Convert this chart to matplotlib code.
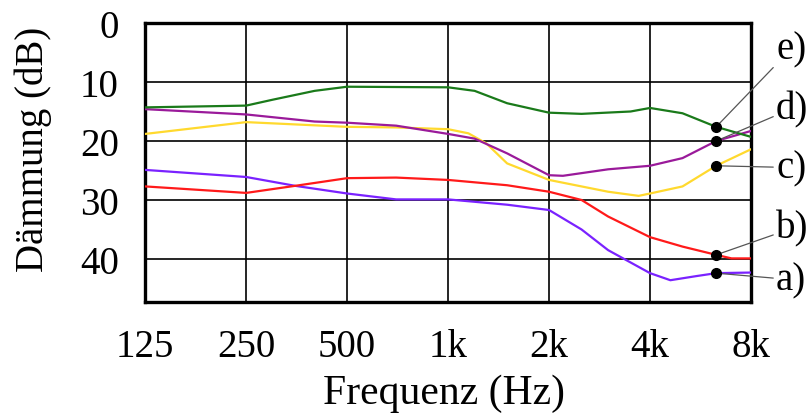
import matplotlib.pyplot as plt
import numpy as np

plt.rcParams["font.family"] = ["Liberation Serif", "DejaVu Serif"]

# curve data (frequency in Hz, attenuation in dB)
freq_a = [125, 250, 350, 500, 700, 1000, 1500, 2000, 2500, 3000, 4000, 4600, 5500, 6300, 8000]
damp_a = [24.9, 26.1, 27.6, 28.9, 29.9, 29.9, 30.8, 31.7, 35.0, 38.5, 42.4, 43.6, 42.9, 42.4, 42.3]

freq_b = [125, 250, 350, 500, 700, 1000, 1500, 2000, 2500, 3000, 4000, 5000, 6300, 7000, 8000]
damp_b = [27.7, 28.8, 27.6, 26.3, 26.2, 26.6, 27.5, 28.6, 30.0, 32.8, 36.3, 37.9, 39.3, 39.9, 39.9]

freq_c = [125, 250, 500, 700, 1000, 1150, 1300, 1500, 2000, 3000, 3700, 4000, 5000, 6300, 8000]
damp_c = [18.8, 16.8, 17.6, 17.7, 18.0, 18.7, 20.4, 23.8, 26.6, 28.6, 29.3, 28.9, 27.7, 24.2, 21.4]

freq_d = [125, 250, 400, 500, 700, 1000, 1200, 1500, 2000, 2200, 3000, 4000, 5000, 6300, 8000]
damp_d = [14.6, 15.5, 16.7, 16.9, 17.4, 18.8, 19.6, 22.1, 25.8, 25.9, 24.8, 24.2, 22.9, 20.0, 18.3]

freq_e = [125, 250, 300, 400, 500, 700, 1000, 1200, 1500, 2000, 2500, 3500, 4000, 5000, 6300, 8000]
damp_e = [14.3, 14.0, 13.0, 11.5, 10.8, 10.85, 10.9, 11.5, 13.6, 15.2, 15.4, 15.0, 14.4, 15.3, 17.6, 19.3]

labels = ["a)", "b)", "c)", "d)", "e)"]
colors = ["#7a22ff", "#ff1a1a", "#ffd92e", "#9a1a9a", "#1a7a1a"]
# marker points on each curve and where the label text sits
dot_freq = 6300
dot_damp = [42.4, 39.3, 24.2, 20.0, 17.6]
label_damp = [43.5, 34.8, 24.5, 14.5, 4.4]

xticks = [125, 250, 500, 1000, 2000, 4000, 8000]
xticklabels = ["125", "250", "500", "1k", "2k", "4k", "8k"]

fig = plt.figure(figsize=(8.11, 4.14), dpi=100)
ax = fig.add_axes([0.179, 0.268, 0.747, 0.674])

ax.set_xscale("log")
ax.set_xlim(125, 8000)
ax.set_ylim(47.3, 0)

series = [(freq_a, damp_a), (freq_b, damp_b), (freq_c, damp_c), (freq_d, damp_d), (freq_e, damp_e)]
for (f, d), c in zip(series, colors):
    ax.plot(f, d, color=c, lw=1.6, zorder=3)

ax.set_xticks(xticks)
ax.set_xticklabels(xticklabels)
ax.xaxis.set_minor_locator(plt.NullLocator())
ax.set_yticks([0, 10, 20, 30, 40])
ax.tick_params(axis="both", length=0, labelsize=28)
ax.tick_params(axis="x", pad=19)
ax.tick_params(axis="y", pad=19)
ax.grid(color="black", lw=1.2, zorder=1)
for s in ax.spines.values():
    s.set_linewidth(2.4)

ax.set_xlabel("Frequenz (Hz)", fontsize=30)
ax.xaxis.set_label_coords(0.4926, -0.257)
ax.set_ylabel("Dämmung (dB)", fontsize=28)
ax.yaxis.set_label_coords(-0.1535, 0.55)

for lab, dd, ld in zip(labels, dot_damp, label_damp):
    ax.plot(dot_freq, dd, "o", color="black", ms=7, zorder=5)
    ax.annotate(lab, xy=(dot_freq, dd), xytext=(9500, ld), fontsize=28,
                va="center", ha="left", annotation_clip=False,
                arrowprops=dict(arrowstyle="-", color="#555555", lw=0.9,
                                shrinkA=0, shrinkB=0))

fig.savefig("out.png", dpi=100)
